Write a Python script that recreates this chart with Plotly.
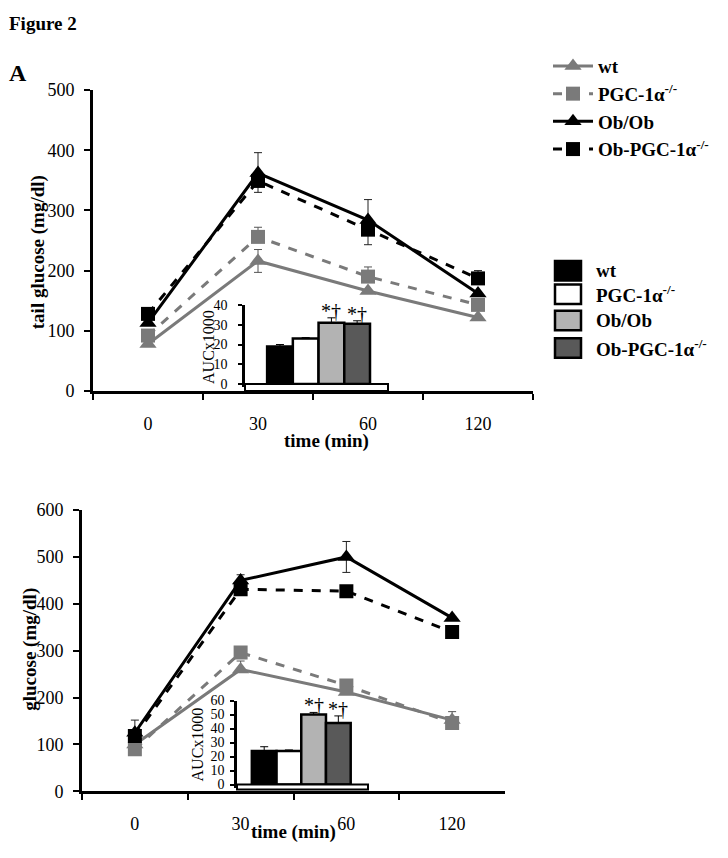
import plotly.graph_objects as go

# ---------------- data ----------------
times = ["0", "30", "60", "120"]
series_names = ["wt", "PGC-1α<sup>-/-</sup>", "Ob/Ob", "Ob-PGC-1α<sup>-/-</sup>"]

# Panel A (top): tail glucose (mg/dl)
wt_top = [78, 216, 166, 122]
wt_top_err_up = [4, 19, 0, 0]
wt_top_err_dn = [0, 19, 0, 0]
pgc_top = [92, 256, 190, 143]
pgc_top_err_up = [0, 16, 16, 0]
pgc_top_err_dn = [0, 0, 0, 0]
ob_top = [113, 362, 284, 162]
ob_top_err_up = [0, 34, 34, 0]
ob_top_err_dn = [0, 0, 0, 0]
obpgc_top = [128, 349, 268, 187]
obpgc_top_err_up = [8, 0, 0, 13]
obpgc_top_err_dn = [0, 19, 25, 0]

# Panel B (bottom): glucose (mg/dl)
wt_bot = [100, 260, 212, 152]
wt_bot_err_up = [0, 18, 0, 18]
wt_bot_err_dn = [0, 0, 0, 0]
pgc_bot = [90, 296, 226, 146]
pgc_bot_err_up = [0, 6, 0, 0]
pgc_bot_err_dn = [0, 0, 0, 0]
ob_bot = [125, 450, 500, 370]
ob_bot_err_up = [27, 12, 33, 0]
ob_bot_err_dn = [0, 0, 33, 0]
obpgc_bot = [118, 431, 427, 340]
obpgc_bot_err_up = [0, 0, 0, 0]
obpgc_bot_err_dn = [0, 0, 0, 0]

# Inset AUC x1000
auc_pos = [1, 2, 3, 4]
auc_top = [19, 23, 31, 30.5]
auc_top_err = [1, 0.5, 2.5, 1.5]
auc_bot = [24, 24, 50, 44]
auc_bot_err = [3, 0.7, 1.5, 5]
auc_sig = ["", "", "*†", "*†"]

# ---------------- styles ----------------
FONT = "Liberation Serif"
GRAY = "#7a7a7a"
line_styles = [
    dict(color=GRAY, dash="solid", symbol="triangle-up", size=15),
    dict(color=GRAY, dash="dash", symbol="square", size=14),
    dict(color="black", dash="solid", symbol="triangle-up", size=15),
    dict(color="black", dash="dash", symbol="square", size=14),
]
bar_colors = ["black", "white", "#b3b3b3", "#595959"]

W, H = 728, 858
def px(x):
    return x / W
def py(y):
    return 1 - y / H

fig = go.Figure()

top_data = [
    (wt_top, wt_top_err_up, wt_top_err_dn),
    (pgc_top, pgc_top_err_up, pgc_top_err_dn),
    (ob_top, ob_top_err_up, ob_top_err_dn),
    (obpgc_top, obpgc_top_err_up, obpgc_top_err_dn),
]
bot_data = [
    (wt_bot, wt_bot_err_up, wt_bot_err_dn),
    (pgc_bot, pgc_bot_err_up, pgc_bot_err_dn),
    (ob_bot, ob_bot_err_up, ob_bot_err_dn),
    (obpgc_bot, obpgc_bot_err_up, obpgc_bot_err_dn),
]

for panel, data, xa, ya in [("top", top_data, "x", "y"), ("bot", bot_data, "x2", "y2")]:
    for i, (vals, eu, ed) in enumerate(data):
        st = line_styles[i]
        fig.add_trace(go.Scatter(
            x=times, y=vals, name=series_names[i], mode="lines+markers",
            line=dict(color=st["color"], dash=st["dash"], width=3),
            marker=dict(symbol=st["symbol"], size=st["size"], color=st["color"]),
            error_y=dict(type="data", symmetric=False, array=eu, arrayminus=ed,
                         color="#222222" if st["color"] == "black" else "#555555",
                         thickness=1, width=4),
            xaxis=xa, yaxis=ya, legendgroup=str(i), showlegend=(panel == "top"),
        ))

# Insets
for vals, errs, xa, ya in [(auc_top, auc_top_err, "x3", "y3"), (auc_bot, auc_bot_err, "x4", "y4")]:
    fig.add_trace(go.Bar(
        x=auc_pos, y=vals, width=1,
        marker=dict(color=bar_colors, line=dict(color="black", width=2.5)),
        error_y=dict(type="data", symmetric=False, array=errs, arrayminus=[0] * 4,
                     color="black", thickness=1, width=4),
        xaxis=xa, yaxis=ya, showlegend=False,
    ))

tickfont = dict(family=FONT, size=18, color="black")
main_x = dict(type="category", range=[-0.5, 3.5], showline=True, linecolor="black", linewidth=3,
              ticks="outside", tickson="boundaries", ticklen=6, tickwidth=2, tickcolor="black",
              tickfont=tickfont, showgrid=False, zeroline=False, ticklabelstandoff=14)
main_y = dict(showline=True, linecolor="black", linewidth=3, ticks="outside", ticklen=6,
              tickwidth=2, tickcolor="black", tickfont=tickfont, showgrid=False,
              zeroline=False, ticklabelstandoff=6)
inset_x = dict(showline=True, linecolor="black", linewidth=3, ticks="", showticklabels=False,
               showgrid=False, zeroline=False)
inset_y = dict(showline=True, linecolor="black", linewidth=2.5, ticks="outside", ticklen=4,
               tickwidth=2, tickcolor="black", tickfont=dict(family=FONT, size=14, color="black"),
               showgrid=False, zeroline=False)

fig.update_layout(
    width=W, height=H, margin=dict(l=0, r=0, t=0, b=0),
    paper_bgcolor="white", plot_bgcolor="rgba(0,0,0,0)",
    font=dict(family=FONT, color="black"),
    xaxis=dict(main_x, domain=[px(93), px(533)], anchor="y"),
    yaxis=dict(main_y, domain=[py(390), py(82)], range=[0, 500], dtick=100, anchor="x"),
    xaxis2=dict(main_x, domain=[px(82), px(505)], anchor="y2"),
    yaxis2=dict(main_y, domain=[py(800), py(512)], range=[0, 600], dtick=100, anchor="x2"),
    xaxis3=dict(inset_x, domain=[px(245), px(388)], range=[-0.36, 5.2], anchor="y3"),
    yaxis3=dict(inset_y, domain=[py(383), py(302)], range=[0, 40], dtick=10, anchor="x3",
                ticklabelstandoff=8),
    xaxis4=dict(inset_x, domain=[px(237), px(368)], range=[-0.1, 5.2], anchor="y4"),
    yaxis4=dict(inset_y, domain=[py(793), py(707)], range=[0, 60], dtick=10, anchor="x4",
                ticklabelstandoff=3),
    legend=dict(x=px(548), y=py(38), xanchor="left", yanchor="top",
                font=dict(family=FONT, size=19, color="black", weight="bold"),
                bgcolor="rgba(0,0,0,0)", tracegroupgap=0, itemwidth=40),
    showlegend=True,
)

def note(text, x, y, size, angle=0, xanchor="center"):
    return dict(text=text, x=px(x), y=py(y), xref="paper", yref="paper",
                xanchor=xanchor, yanchor="middle", textangle=angle,
                showarrow=False, font=dict(size=size))

ann = [
    note("<b>Figure 2</b>", 7, 14, 19, xanchor="left"),
    note("<b>A</b>", 7, 64, 24, xanchor="left"),
    note("<b>tail glucose (mg/dl)</b>", 38, 248, 19, angle=-90),
    note("<b>glucose (mg/dl)</b>", 30, 655, 19, angle=-90),
    note("<b>time (min)</b>", 326, 441, 19),
    note("<b>time (min)</b>", 293, 842, 19),
    note("AUCx1000", 209, 345, 16, angle=-90),
    note("AUCx1000", 197, 752, 16, angle=-90),
]
for p, v, e, s in zip(auc_pos, auc_top, auc_top_err, auc_sig):
    if s:
        ann.append(dict(text=s, x=p, y=v + e, xref="x3", yref="y3", xanchor="center",
                        yanchor="bottom", showarrow=False, font=dict(size=20), yshift=-6))
for p, v, e, s in zip(auc_pos, auc_bot, auc_bot_err, auc_sig):
    if s:
        ann.append(dict(text=s, x=p, y=v + e, xref="x4", yref="y4", xanchor="center",
                        yanchor="bottom", showarrow=False, font=dict(size=20), yshift=-6))

# Bar legend (manual swatches)
shapes = []
bar_leg_y = [267, 291, 318, 346]
for c, yy, nm in zip(bar_colors, bar_leg_y, series_names):
    shapes.append(dict(type="rect", xref="paper", yref="paper",
                       x0=px(555), x1=px(581), y0=py(yy + 10), y1=py(yy - 10),
                       fillcolor=c, line=dict(color="black", width=2.5)))
    ann.append(note("<b>" + nm + "</b>", 594, yy, 19, xanchor="left"))

# white box under inset x axes
shapes.append(dict(type="rect", xref="x3 domain", yref="paper", x0=0, x1=1,
                   y0=py(390), y1=py(383), fillcolor="white", line=dict(color="black", width=2)))
shapes.append(dict(type="rect", xref="x4 domain", yref="paper", x0=0, x1=1,
                   y0=py(798), y1=py(793), fillcolor="white", line=dict(color="black", width=2)))

fig.update_layout(annotations=ann, shapes=shapes)
fig.write_html("out.html", config={"displayModeBar": False},
               post_script="document.body.style.margin='0px';document.body.style.overflow='hidden';")
